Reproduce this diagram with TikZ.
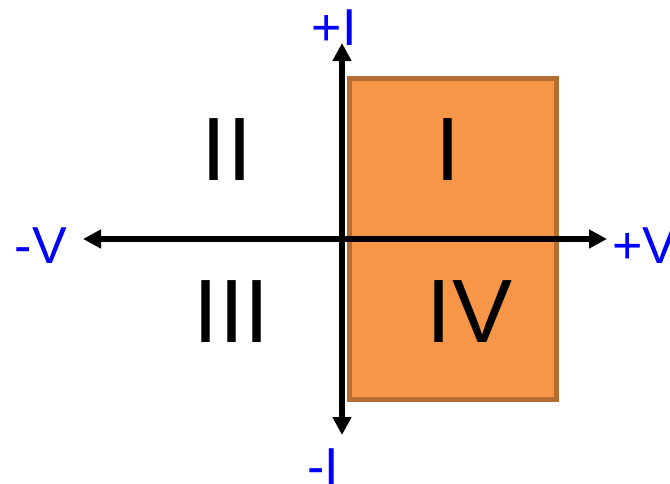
\documentclass[tikz,border=0pt]{standalone}
\usepackage{fontspec}
\setmainfont{Liberation Sans}
\usetikzlibrary{arrows.meta}
\definecolor{quadfill}{HTML}{F79646}
\definecolor{quadedge}{HTML}{B66D31}
\definecolor{axlabel}{HTML}{0000FF}
\begin{document}
\begin{tikzpicture}[x=1pt,y=-1pt,
  axis/.style={line width=5.5pt,draw=black,{Triangle[width=18pt,length=18pt]}-{Triangle[width=18pt,length=18pt]}},
  quad/.style={inner sep=0pt,font=\fontsize{90}{90}\selectfont,anchor=base},
  axlab/.style={inner sep=0pt,text=axlabel,font=\fontsize{52}{52}\selectfont}]
\useasboundingbox (0,0) rectangle (670,483);
\fill[white] (0,0) rectangle (670,483);
\draw[fill=quadfill,draw=quadedge,line width=5pt] (349,78) rectangle (556,399);
\coordinate (top) at (342,43);
\coordinate (bot) at (342,435);
\coordinate (lft) at (83,239);
\coordinate (rgt) at (607,239);
\draw[axis] (bot) -- (top);
\draw[axis] (lft) -- (rgt);
\node[quad] (q2) at (227,180) {II};
\node[quad] (q1) at (448,180) {I};
\node[quad] (q3) at (231.5,342) {III};
\node[quad] (q4) at (469.5,342) {IV};
\node[axlab,anchor=base east] (pi) at (357,45) {+I};
\node[axlab,anchor=base west] (mi) at (307,484) {-I};
\node[axlab,anchor=base east] (mv) at (67,263) {-V};
\node[axlab,anchor=base west] (pv) at (612,263) {+V};
\end{tikzpicture}
\end{document}
